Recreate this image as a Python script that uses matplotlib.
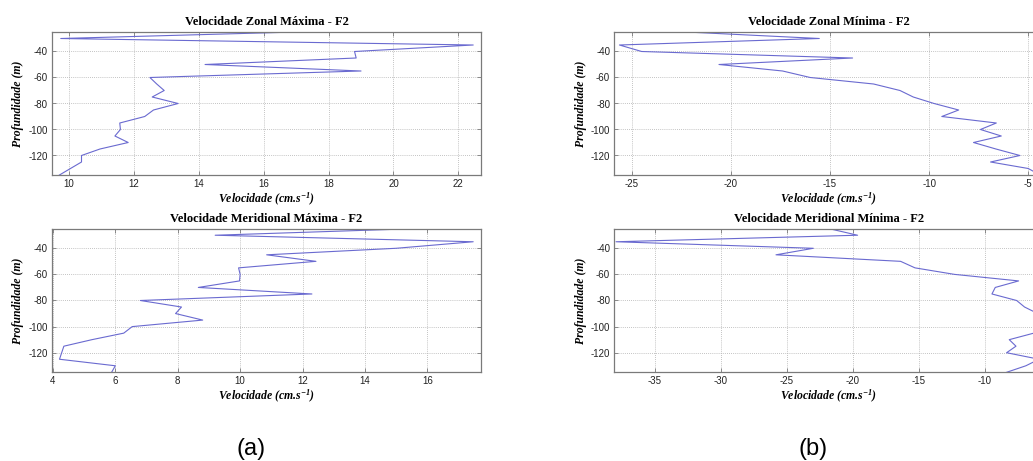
import matplotlib
matplotlib.use("Agg")
import matplotlib.pyplot as plt

# Depth levels (m)
depth = [-25, -30, -35, -40, -45, -50, -55, -60, -65, -70, -75, -80,
         -85, -90, -95, -100, -105, -110, -115, -120, -125, -130, -135]

# Velocity profiles (cm/s)
zonal_max = [17.0, 9.74, 22.46, 18.8, 18.85, 14.19, 19.0, 12.49, 12.7, 12.93,
             12.56, 13.36, 12.6, 12.33, 11.56, 11.58, 11.41, 11.82, 10.95,
             10.38, 10.38, 10.04, 9.7]
zonal_min = [-22.23, -15.54, -25.62, -24.5, -13.86, -20.6, -17.39, -16.0,
             -12.8, -11.47, -10.8, -9.75, -8.51, -9.36, -6.61, -7.41, -6.36,
             -7.76, -6.63, -5.42, -6.9, -5.0, -4.4]
merid_max = [15.55, 9.2, 17.47, 15.0, 10.85, 12.43, 9.95, 10.0, 9.98, 8.66,
             12.3, 6.8, 8.12, 7.93, 8.8, 6.54, 6.27, 5.25, 4.35, 4.28, 4.21,
             6.0, 5.88]
merid_min = [-21.79, -19.65, -37.95, -23.0, -25.83, -16.39, -15.3, -12.3,
             -7.45, -9.22, -9.47, -7.6, -7.0, -6.0, -5.8, -5.9, -6.3, -8.16,
             -7.65, -8.36, -5.9, -6.9, -8.36]

titles = ["Velocidade Zonal Máxima - F2", "Velocidade Zonal Mínima - F2",
          "Velocidade Meridional Máxima - F2", "Velocidade Meridional Mínima - F2"]
xticks = [[10, 12, 14, 16, 18, 20, 22], [-25, -20, -15, -10, -5],
          [4, 6, 8, 10, 12, 14, 16], [-35, -30, -25, -20, -15, -10]]
xlims = [(9.47, 22.70), (-25.88, -4.24), (3.97, 17.72), (-38.08, -5.58)]
yticks = [-120, -100, -80, -60, -40]
panel_labels = ["(a)", "(b)"]

plt.rcParams["axes.unicode_minus"] = False
plt.rcParams["mathtext.fontset"] = "custom"
plt.rcParams["mathtext.it"] = "Liberation Serif:italic:bold"
plt.rcParams["mathtext.rm"] = "Liberation Serif:italic:bold"
plt.rcParams["mathtext.default"] = "it"

W, H = 1033, 461
fig = plt.figure(figsize=(W / 100, H / 100), dpi=100)

def frac(left, top, right, bottom):
    return [left / W, 1 - bottom / H, (right - left) / W, (bottom - top) / H]

boxes = [frac(52, 32, 481, 175), frac(614.3, 32, 1043.3, 175),
         frac(52, 228.7, 481, 372.3), frac(614.3, 228.7, 1043.3, 372.3)]
series = [zonal_max, zonal_min, merid_max, merid_min]

serif_bold = dict(family="Liberation Serif", weight="bold")
edge = "#7a7a7a"

for i, (box, vals) in enumerate(zip(boxes, series)):
    ax = fig.add_axes(box)
    ax.plot(vals, depth, color="#6a6ad0", linewidth=0.8)
    ax.set_xlim(*xlims[i])
    ax.set_ylim(-135, -25)
    ax.set_xticks(xticks[i])
    ax.set_yticks(yticks)
    ax.grid(True, linestyle=(0, (1, 1.5)), color="#b0b0b0", linewidth=0.6)
    ax.tick_params(direction="in", top=True, right=True, length=3,
                   width=0.6, color=edge, labelsize=7, pad=3,
                   labelcolor="#222222")
    for lab in ax.get_xticklabels() + ax.get_yticklabels():
        lab.set_family("Liberation Sans")
    for sp in ax.spines.values():
        sp.set_color(edge)
        sp.set_linewidth(0.9)
    ax.set_title(titles[i], fontsize=9, pad=5, **serif_bold)
    ax.set_xlabel("Velocidade (cm.s$^{-1}$)", fontsize=8.5, style="italic",
                  labelpad=1, **serif_bold)
    ax.set_ylabel("Profundidade (m)", fontsize=8.5, style="italic",
                  labelpad=3, **serif_bold)

fig.text(251 / W, 1 - 449 / H, panel_labels[0], ha="center", va="center",
         fontsize=17, family="Liberation Sans")
fig.text(813 / W, 1 - 449 / H, panel_labels[1], ha="center", va="center",
         fontsize=17, family="Liberation Sans")

fig.savefig("out.png", dpi=100)
